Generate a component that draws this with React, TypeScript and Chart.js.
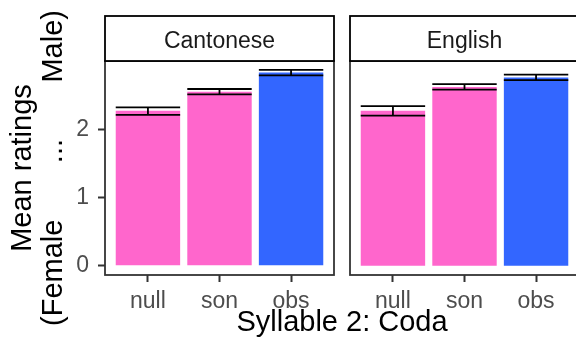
import React, { useEffect, useRef } from "react";
import { Chart, registerables } from "chart.js";

Chart.register(...registerables);

const categories = ["null", "son", "obs"];
const panelLabels = ["Cantonese", "English"];
const cantoneseMeans = [2.27, 2.55, 2.83];
const cantoneseLower = [2.21, 2.51, 2.79];
const cantoneseUpper = [2.32, 2.59, 2.87];
const englishMeans = [2.27, 2.62, 2.76];
const englishLower = [2.2, 2.58, 2.72];
const englishUpper = [2.34, 2.66, 2.8];
const barColors = ["#FF66CC", "#FF66CC", "#3366FF"];
const yTicks = [0, 1, 2];
const yTitle = ["Mean ratings", "(Female       ...       Male)"];
const xTitle = "Syllable 2: Coda";

const FONT = "'Liberation Sans', Arial, Helvetica, sans-serif";

function makeFacetPlugin(label: string, lower: number[], upper: number[]) {
  return {
    id: "facet",
    afterDatasetsDraw(chart: any) {
      const { ctx, chartArea: a, scales } = chart;
      const meta = chart.getDatasetMeta(0);
      ctx.save();
      // error bars
      ctx.strokeStyle = "#000";
      ctx.lineWidth = 1.8;
      meta.data.forEach((bar: any, i: number) => {
        const x = bar.x;
        const w = bar.width;
        const yl = scales.y.getPixelForValue(lower[i]);
        const yu = scales.y.getPixelForValue(upper[i]);
        ctx.beginPath();
        ctx.moveTo(x - w / 2, yl);
        ctx.lineTo(x + w / 2, yl);
        ctx.moveTo(x - w / 2, yu);
        ctx.lineTo(x + w / 2, yu);
        ctx.moveTo(x, yl);
        ctx.lineTo(x, yu);
        ctx.stroke();
      });
      // panel border
      ctx.strokeStyle = "#333333";
      ctx.lineWidth = 1.8;
      ctx.strokeRect(a.left, a.top, a.right - a.left, a.bottom - a.top);
      // strip
      const stripTop = 16;
      ctx.fillStyle = "#ffffff";
      ctx.fillRect(a.left, stripTop, a.right - a.left, a.top - stripTop);
      ctx.strokeStyle = "#000000";
      ctx.lineWidth = 1.8;
      ctx.strokeRect(a.left, stripTop, a.right - a.left, a.top - stripTop);
      ctx.fillStyle = "#1a1a1a";
      ctx.font = `23px ${FONT}`;
      ctx.textAlign = "center";
      ctx.textBaseline = "alphabetic";
      ctx.fillText(label, (a.left + a.right) / 2, 47.5);
      ctx.restore();
    },
  };
}

function buildConfig(
  label: string,
  means: number[],
  lower: number[],
  upper: number[],
  showY: boolean,
  padLeft: number,
  padRight: number
): any {
  return {
    type: "bar",
    data: {
      datasets: [
        {
          data: means.map((m, i) => ({ x: i + 1, y: m })),
          backgroundColor: barColors,
          borderWidth: 0,
          barPercentage: 0.9,
          categoryPercentage: 1,
        },
      ],
    },
    options: {
      responsive: false,
      animation: false,
      devicePixelRatio: 1,
      layout: { padding: { top: 61, right: padRight, left: padLeft, bottom: 0 } },
      plugins: { legend: { display: false }, tooltip: { enabled: false } },
      scales: {
        x: {
          type: "linear",
          min: 0.4,
          max: 3.6,
          offset: false,
          afterBuildTicks: (s: any) => {
            s.ticks = categories.map((_, i) => ({ value: i + 1 }));
          },
          afterFit: (s: any) => {
            s.height = 70;
          },
          ticks: {
            callback: (v: any) => categories[Math.round(v) - 1],
            color: "#4d4d4d",
            font: { size: 23, family: FONT },
            padding: 6,
            maxRotation: 0,
            autoSkip: false,
          },
          grid: {
            display: true,
            offset: false,
            drawOnChartArea: false,
            drawTicks: true,
            tickLength: 7,
            tickWidth: 2,
            tickColor: "#333333",
          },
          border: { display: false },
        },
        y: {
          display: showY,
          min: -0.136,
          max: 3.0,
          afterBuildTicks: (s: any) => {
            s.ticks = yTicks.map((v) => ({ value: v }));
          },
          afterFit: (s: any) => {
            if (showY) s.width = 105;
          },
          ticks: {
            color: "#4d4d4d",
            font: { size: 23, family: FONT },
            padding: 9,
          },
          grid: {
            display: true,
            drawOnChartArea: false,
            drawTicks: true,
            tickLength: 7,
            tickWidth: 2,
            tickColor: "#333333",
          },
          border: { display: false },
          title: {
            display: showY,
            text: yTitle,
            color: "#000000",
            font: { size: 29, family: FONT, lineHeight: 1.07 },
            padding: { top: 7, bottom: 0 },
          },
        },
      },
    },
    plugins: [makeFacetPlugin(label, lower, upper)],
  };
}

export default function App() {
  const leftRef = useRef<HTMLCanvasElement | null>(null);
  const rightRef = useRef<HTMLCanvasElement | null>(null);

  useEffect(() => {
    const left = new Chart(
      leftRef.current as HTMLCanvasElement,
      buildConfig(panelLabels[0], cantoneseMeans, cantoneseLower, cantoneseUpper, true, 0, 6)
    );
    const right = new Chart(
      rightRef.current as HTMLCanvasElement,
      buildConfig(panelLabels[1], englishMeans, englishLower, englishUpper, false, 10, 11)
    );
    return () => {
      left.destroy();
      right.destroy();
    };
  }, []);

  return (
    <div
      style={{
        position: "fixed",
        left: 0,
        top: 0,
        width: 576,
        height: 345,
        overflow: "hidden",
        background: "#ffffff",
      }}
    >
      <canvas
        ref={leftRef}
        width={340}
        height={345}
        style={{ position: "absolute", left: 0, top: 0, width: 340, height: 345 }}
      />
      <canvas
        ref={rightRef}
        width={250}
        height={345}
        style={{ position: "absolute", left: 340, top: 0, width: 250, height: 345 }}
      />
      <div
        style={{
          position: "absolute",
          left: 142,
          width: 400,
          top: 307,
          textAlign: "center",
          fontFamily: FONT,
          fontSize: 29,
          lineHeight: "29px",
          color: "#000000",
          whiteSpace: "nowrap",
        }}
      >
        {xTitle}
      </div>
    </div>
  );
}
